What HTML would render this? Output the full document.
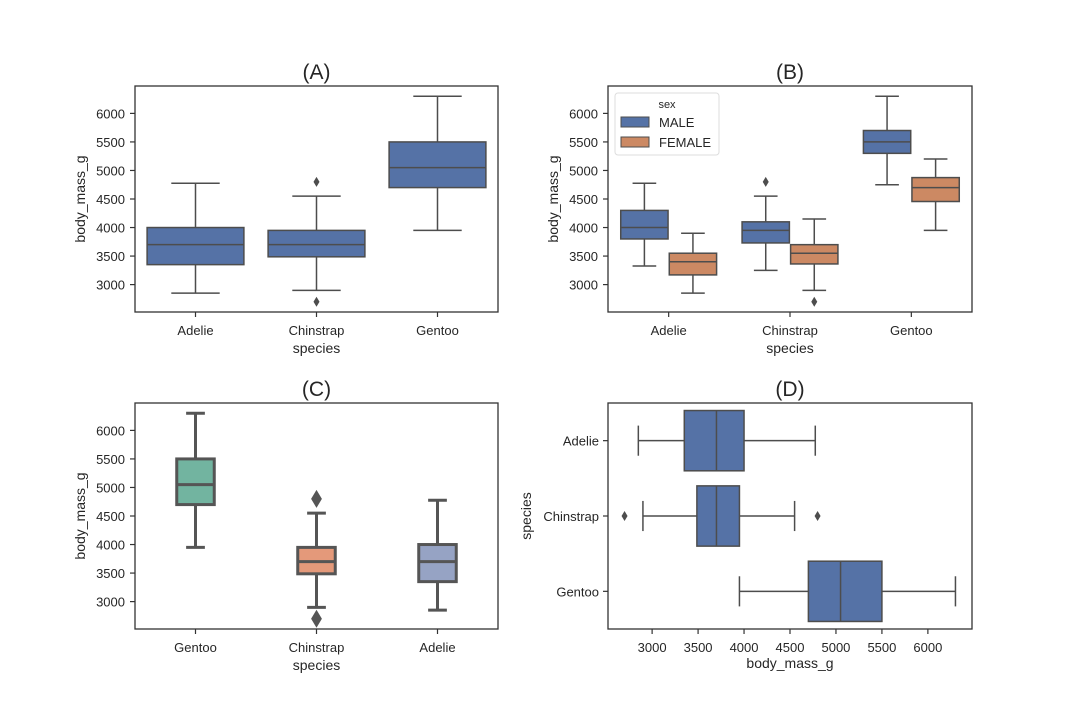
<!DOCTYPE html>
<html><head><meta charset="utf-8"><style>
body{margin:0;background:#fff}
svg text{font-family:"Liberation Sans",Arial,sans-serif;fill:#262626}
</style></head><body>
<svg id="fig" width="1080" height="720" viewBox="0 0 1080 720" xmlns="http://www.w3.org/2000/svg"></svg>
<script>
// ---- data ----
const speciesA = ["Adelie","Chinstrap","Gentoo"];
const statsA = [[2850,3350,3700,4000,4775],[2900,3487,3700,3950,4550],[3950,4700,5050,5500,6300]];
const outliersA = [[],[2700,4800],[]];
const hueLabels = ["MALE","FEMALE"];
const statsMale = [[3325,3800,4000,4300,4775],[3250,3730,3950,4100,4550],[4750,5300,5500,5700,6300]];
const outliersMale = [[],[4800],[]];
const statsFemale = [[2850,3170,3400,3550,3900],[2900,3362,3550,3700,4150],[3950,4456,4700,4875,5200]];
const outliersFemale = [[],[2700],[]];
const speciesC = ["Gentoo","Chinstrap","Adelie"];
const statsC = [[3950,4700,5050,5500,6300],[2900,3487,3700,3950,4550],[2850,3350,3700,4000,4775]];
const outliersC = [[],[2700,4800],[]];
const yTicks = [3000,3500,4000,4500,5000,5500,6000];
const yDomain = [2520,6480];

const svg = document.getElementById('fig');
const NS = "http://www.w3.org/2000/svg";
function mk(tag, attrs, parent){const e=document.createElementNS(NS,tag);for(const k in attrs)e.setAttribute(k,attrs[k]);(parent||svg).appendChild(e);return e;}
const AX="#333", LN="#4d4d4d";
const BLUE="#5572a6", ORANGE="#cc8963";
const setC=["#72b4a0","#e4997a","#96a3c4"];

function panel(p){
  const g=mk('g',{});
  
  
  const {x0,x1,y0,y1}=p;
  const ysc=v=>y1-(v-yDomain[0])/(yDomain[1]-yDomain[0])*(y1-y0);
  const xsc=v=>x0+(v-yDomain[0])/(yDomain[1]-yDomain[0])*(x1-x0);
  const n=p.cats.length;
  const horiz=!!p.horiz;
  const bw=horiz?(y1-y0)/n:(x1-x0)/n;
  const catPos=i=>horiz?y0+bw*(i+0.5):x0+bw*(i+0.5);
  const t=mk('text',{x:(x0+x1)/2,y:y0-7,'text-anchor':'middle','font-size':21},g);t.textContent=p.title;
  
  yTicks.forEach(v=>{
    if(horiz){const x=xsc(v);mk('line',{x1:x,x2:x,y1:y1,y2:y1+5,stroke:AX,'stroke-width':1.2},g);
      const tx=mk('text',{x:x,y:y1+23,'text-anchor':'middle','font-size':13},g);tx.textContent=v;
      }
    else{const y=ysc(v);mk('line',{x1:x0-5,x2:x0,y1:y,y2:y,stroke:AX,'stroke-width':1.2},g);
      const tx=mk('text',{x:x0-10,y:y+5,'text-anchor':'end','font-size':13},g);tx.textContent=v;
      }
  });
  p.cats.forEach((c,i)=>{
    const c0=catPos(i);
    if(horiz){mk('line',{x1:x0-5,x2:x0,y1:c0,y2:c0,stroke:AX,'stroke-width':1.2},g);
      const tx=mk('text',{x:x0-9,y:c0+5,'text-anchor':'end','font-size':13},g);tx.textContent=c;
      }
    else{mk('line',{x1:c0,x2:c0,y1:y1,y2:y1+5,stroke:AX,'stroke-width':1.2},g);
      const tx=mk('text',{x:c0,y:y1+23,'text-anchor':'middle','font-size':13},g);tx.textContent=c;
      }
  });
  const xl=mk('text',{x:(x0+x1)/2,y:y1+(horiz?39:41),'text-anchor':'middle','font-size':14},g);xl.textContent=horiz?'body_mass_g':'species';
  
  const yx=x0-(horiz?77:50), yy=(y0+y1)/2;
  const yl=mk('text',{x:yx,y:yy,'text-anchor':'middle','font-size':14,transform:`rotate(-90 ${yx} ${yy})`},g);yl.textContent=horiz?'species':'body_mass_g';
  
  p.series.forEach(s=>{
    s.stats.forEach((st,i)=>{
      const c=catPos(i)+s.off*bw, w=s.w*bw, lw=s.lw, col=s.colors?s.colors[i]:s.color;
      const bg=mk('g',{},g);
      
      
      const [lo,q1,md,q3,hi]=st;
      const L=(a,b,c2,d)=>mk('line',{x1:a,y1:b,x2:c2,y2:d,stroke:s.lc,'stroke-width':lw},bg);
      if(!horiz){
        L(c,ysc(hi),c,ysc(q3));L(c,ysc(q1),c,ysc(lo));
        L(c-w/4,ysc(hi),c+w/4,ysc(hi));L(c-w/4,ysc(lo),c+w/4,ysc(lo));
        mk('rect',{x:c-w/2,y:ysc(q3),width:w,height:ysc(q1)-ysc(q3),fill:col,stroke:s.lc,'stroke-width':lw},bg);
        L(c-w/2,ysc(md),c+w/2,ysc(md));
      } else {
        L(xsc(lo),c,xsc(q1),c);L(xsc(q3),c,xsc(hi),c);
        L(xsc(lo),c-w/4,xsc(lo),c+w/4);L(xsc(hi),c-w/4,xsc(hi),c+w/4);
        mk('rect',{x:xsc(q1),y:c-w/2,width:xsc(q3)-xsc(q1),height:w,fill:col,stroke:s.lc,'stroke-width':lw},bg);
        L(xsc(md),c-w/2,xsc(md),c+w/2);
      }
      s.out[i].forEach(v=>{
        const px=horiz?xsc(v):c, py=horiz?c:ysc(v), r=s.ms;
        const d=mk('path',{d:`M${px} ${py-r}L${px+r*0.6} ${py}L${px} ${py+r}L${px-r*0.6} ${py}Z`,fill:s.lc},bg);
        
      });
    });
  });
  const fr=mk('rect',{x:x0,y:y0,width:x1-x0,height:y1-y0,fill:'none',stroke:AX,'stroke-width':1.3},g);
  
  return g;
}

panel({name:'panel-a',title:'(A)',x0:135,x1:498,y0:86,y1:312,cats:speciesA,
  series:[{stats:statsA,out:outliersA,off:0,w:0.8,color:BLUE,lc:LN,lw:1.5,ms:5}]});
const gb=panel({name:'panel-b',title:'(B)',x0:608,x1:972,y0:86,y1:312,cats:speciesA,
  series:[{label:'MALE',stats:statsMale,out:outliersMale,off:-0.2,w:0.39,color:BLUE,lc:LN,lw:1.5,ms:5},
          {label:'FEMALE',stats:statsFemale,out:outliersFemale,off:0.2,w:0.39,color:ORANGE,lc:LN,lw:1.5,ms:5}]});
panel({name:'panel-c',title:'(C)',x0:135,x1:498,y0:403,y1:629,cats:speciesC,
  series:[{stats:statsC,out:outliersC,off:0,w:0.31,colors:setC,lc:"#555",lw:3,ms:9}]});
panel({name:'panel-d',title:'(D)',x0:608,x1:972,y0:403,y1:629,cats:speciesA,horiz:true,
  series:[{stats:statsA,out:outliersA,off:0,w:0.8,color:BLUE,lc:LN,lw:1.5,ms:5}]});

const lg=mk('g',{},gb);


mk('rect',{x:615,y:93,width:104,height:62,rx:3,fill:'#fff',stroke:'#ddd','stroke-width':1},lg);
const lt=mk('text',{x:667,y:108,'text-anchor':'middle','font-size':11},lg);lt.textContent='sex';
[[BLUE,'MALE',122],[ORANGE,'FEMALE',142]].forEach(([c,l,y])=>{
  const e=mk('g',{},lg);
  
  
  mk('rect',{x:621,y:y-5,width:28,height:10,fill:c,stroke:LN,'stroke-width':1},e);
  const tx=mk('text',{x:659,y:y+5,'font-size':13},e);tx.textContent=l;
});
</script>
</body></html>
